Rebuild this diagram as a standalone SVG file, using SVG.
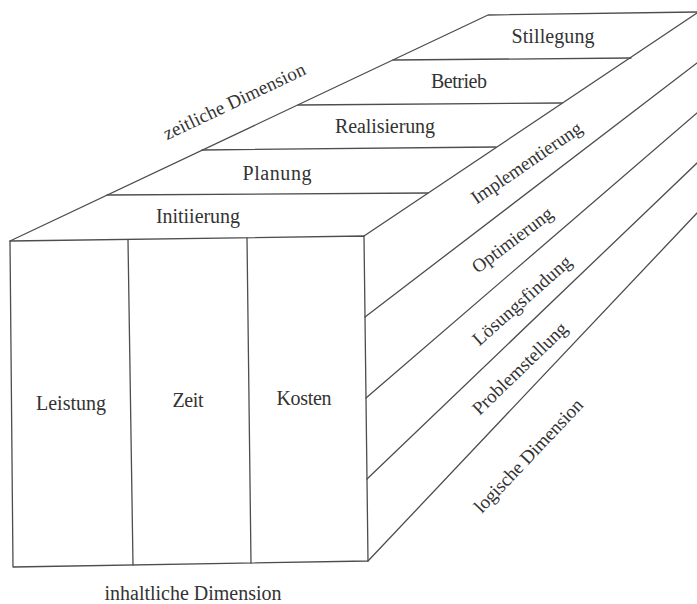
<svg xmlns="http://www.w3.org/2000/svg" width="697" height="604" viewBox="0 0 697 604">
<style>
.ln{fill:none;stroke:#4d4d4d;stroke-width:1.3;stroke-linecap:round;stroke-linejoin:round}
.t{font-family:"Liberation Serif","Times New Roman",serif;font-size:20px;fill:#333;text-anchor:middle}
.r{font-family:"Liberation Serif","Times New Roman",serif;font-size:19px;fill:#333;text-anchor:middle}
</style>
<rect width="697" height="604" fill="#fff"/>
<g id="box-lines">
<polygon class="ln" points="10,241 364,236 368,561 13,567"/>
<line class="ln" x1="128" y1="240" x2="133" y2="565"/>
<line class="ln" x1="247" y1="238" x2="251" y2="563"/>
<polyline class="ln" points="10,241 488,15 697,12"/>
<line class="ln" x1="364" y1="236" x2="697" y2="13"/>
<line class="ln" x1="107" y1="195" x2="428" y2="193"/>
<line class="ln" x1="202" y1="150" x2="496" y2="147"/>
<line class="ln" x1="298" y1="105" x2="562" y2="103"/>
<line class="ln" x1="393" y1="60" x2="631" y2="58"/>
<line class="ln" x1="365" y1="317" x2="697" y2="63"/>
<line class="ln" x1="366" y1="398" x2="697" y2="113"/>
<line class="ln" x1="367" y1="479" x2="697" y2="163"/>
<line class="ln" x1="368" y1="561" x2="697" y2="213"/>
</g>
<g id="zeitlich">
<text class="t" x="198" y="223" textLength="84" lengthAdjust="spacing">Initiierung</text>
<text class="t" x="277" y="180" textLength="69" lengthAdjust="spacing">Planung</text>
<text class="t" x="385" y="133" textLength="100" lengthAdjust="spacing">Realisierung</text>
<text class="t" x="459" y="88" textLength="56" lengthAdjust="spacing">Betrieb</text>
<text class="t" x="553" y="43" textLength="83" lengthAdjust="spacing">Stillegung</text>
<text class="r" x="237" y="107" textLength="155" lengthAdjust="spacing" transform="rotate(-25.4 237 107)">zeitliche Dimension</text>
</g>
<g id="inhaltlich">
<text class="t" x="71" y="410" textLength="70" lengthAdjust="spacing">Leistung</text>
<text class="t" x="188" y="407" textLength="31" lengthAdjust="spacing">Zeit</text>
<text class="t" x="304" y="405" textLength="55" lengthAdjust="spacing">Kosten</text>
<text class="t" x="193" y="600" textLength="177" lengthAdjust="spacing">inhaltliche Dimension</text>
</g>
<g id="logisch">
<text class="r" x="530" y="168" textLength="130" lengthAdjust="spacing" transform="rotate(-34.5 530 168)">Implementierung</text>
<text class="r" x="516" y="245" textLength="96" lengthAdjust="spacing" transform="rotate(-37 516 245)">Optimierung</text>
<text class="r" x="526" y="305" textLength="125" lengthAdjust="spacing" transform="rotate(-41.5 526 305)">Lösungsfindung</text>
<text class="r" x="524" y="373" textLength="124" lengthAdjust="spacing" transform="rotate(-44 524 373)">Problemstellung</text>
<text class="r" x="533" y="460" textLength="149" lengthAdjust="spacing" transform="rotate(-46.5 533 460)">logische Dimension</text>
</g>
</svg>
